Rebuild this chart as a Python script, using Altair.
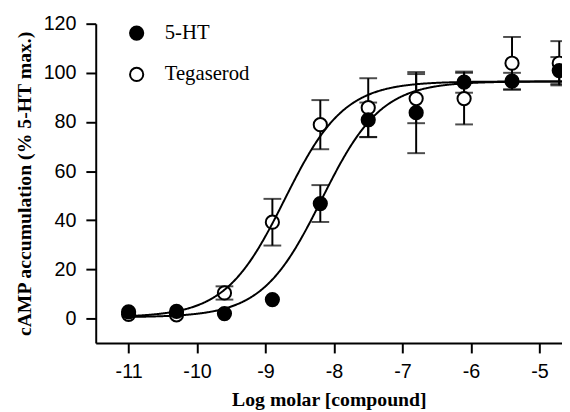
import altair as alt
import pandas as pd

# ---- data ----
log_dose = [-11.0, -10.3, -9.6, -8.9, -8.2, -7.5, -6.8, -6.1, -5.4, -4.71]
ht_mean = [2.7, 2.9, 2.0, 7.7, 46.8, 80.9, 83.8, 96.2, 96.6, 100.9]
ht_sem = [0, 0, 0, 0, 7.5, 7.0, 16.5, 4.3, 3.4, 5.5]
teg_mean = [1.7, 1.5, 10.4, 39.2, 78.9, 85.8, 89.5, 89.5, 103.9, 103.9]
teg_sem = [0, 0, 2.7, 9.5, 10.0, 12.0, 10.0, 10.5, 10.7, 9.0]

series = ["5-HT", "Tegaserod"]
fit_bottom = [0.5, 0.5]
fit_top = [96.5, 96.5]
fit_logec50 = [-8.18, -8.72]
fit_hill = [1.0, 1.0]

x_ticks = [-11, -10, -9, -8, -7, -6, -5]
y_ticks = [0, 20, 40, 60, 80, 100, 120]

# ---- tables ----
rows = []
for name, means, sems in [("Tegaserod", teg_mean, teg_sem), ("5-HT", ht_mean, ht_sem)]:
    for xv, m, s in zip(log_dose, means, sems):
        rows.append({"series": name, "x": xv, "y": m, "lo": m - s, "hi": m + s, "sem": s})
pts = pd.DataFrame(rows)
err = pts[pts["sem"] > 0]

xs = alt.Scale(domain=[-11.48, -4.67], nice=False, zero=False)
ys = alt.Scale(domain=[-10, 120], nice=False, zero=False)

x_axis = alt.Axis(values=x_ticks, title="Log molar [compound]", labelExpr="datum.value + ''",
                  titleY=63, titleBaseline="alphabetic")
y_axis = alt.Axis(values=y_ticks, title="cAMP accumulation (% 5-HT max.)",
                  titleX=-66, titleBaseline="alphabetic", labelPadding=10)

X = alt.X("x:Q", scale=xs, axis=x_axis)
Y = alt.Y("y:Q", scale=ys, axis=y_axis)

base_err = alt.Chart(err)
rules = base_err.mark_rule(color="black", strokeWidth=2).encode(
    x=alt.X("x:Q", scale=xs), y=alt.Y("lo:Q", scale=ys), y2="hi:Q")
cap_lo = base_err.mark_tick(orient="horizontal", size=18, thickness=2, color="black").encode(
    x=alt.X("x:Q", scale=xs), y=alt.Y("lo:Q", scale=ys))
cap_hi = base_err.mark_tick(orient="horizontal", size=18, thickness=2, color="black").encode(
    x=alt.X("x:Q", scale=xs), y=alt.Y("hi:Q", scale=ys))

points = alt.Chart(pts).mark_point(shape="circle", filled=True, size=180, stroke="black",
                                   strokeWidth=2, opacity=1).encode(
    x=X, y=Y,
    fill=alt.Fill("series:N", scale=alt.Scale(domain=series, range=["black", "white"]),
                  legend=alt.Legend(title=None, orient="none", legendX=31, legendY=-1,
                                    symbolType="circle", symbolSize=180,
                                    symbolStrokeColor="black", symbolStrokeWidth=2,
                                    labelFont="Liberation Serif", labelFontSize=21,
                                    labelColor="black", rowPadding=19, labelOffset=18,
                                    padding=0)),
    order=alt.Order("series:N", sort="descending"),
)

def expr(i):
    b, t, ec, h = fit_bottom[i], fit_top[i], fit_logec50[i], fit_hill[i]
    return f"{b} + ({t} - {b}) / (1 + pow(10, ({ec} - datum.x) * {h}))"

curves = alt.Chart(alt.sequence(-11, -4.6, 0.01, as_="x")).transform_calculate(
    ht=expr(0), teg=expr(1)
).transform_fold(["ht", "teg"], as_=["key", "y"]).mark_line(
    color="black", strokeWidth=2).encode(
    x=alt.X("x:Q", scale=xs), y=alt.Y("y:Q", scale=ys), detail="key:N")

chart = alt.layer(rules, cap_lo, cap_hi, points, curves).properties(
    width=473, height=324, autosize="none",
    padding={"left": 89, "top": 13, "right": 0, "bottom": 67},
).configure_view(stroke=None).configure_axis(
    grid=False, domainColor="black", domainWidth=2, tickColor="black", tickWidth=2,
    tickSize=10, labelFont="Liberation Sans", labelFontSize=20, labelColor="black",
    labelPadding=9, titleFont="Liberation Serif", titleFontSize=20, titleFontWeight="bold",
    titleColor="black",
)

chart.save("out.html", embed_options={"renderer": "svg", "actions": False})
